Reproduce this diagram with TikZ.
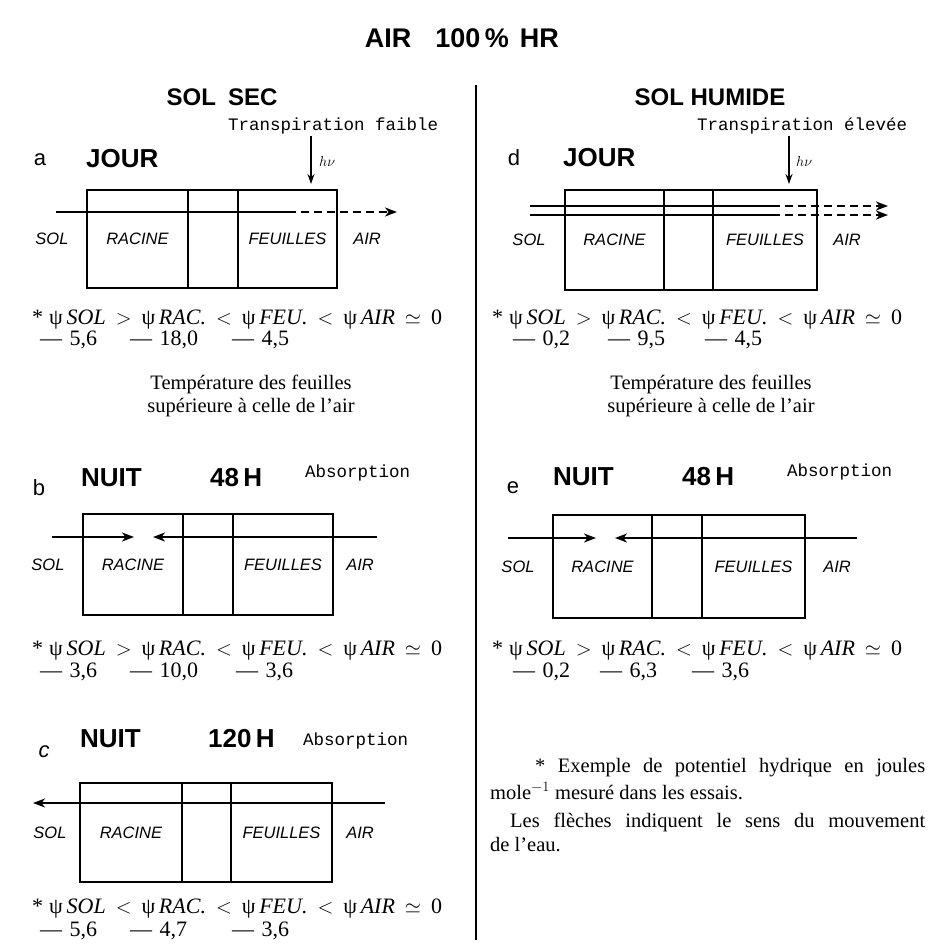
\documentclass[tikz,border=0pt]{standalone}
\usepackage{fontspec}
\setmainfont{Liberation Serif}
\setsansfont{Liberation Sans}
\setmonofont{Liberation Mono}
\usetikzlibrary{arrows.meta,positioning}

\begin{document}
\begin{tikzpicture}[
  x=1pt, y=-1pt,
  every node/.style={inner sep=0pt},
  cell/.style ={draw, line width=1.7pt, outer sep=0pt, minimum height=100pt,
                font=\sffamily\itshape\fontsize{16.5}{16.5}\selectfont},
  side/.style ={font=\sffamily\itshape\fontsize{16.5}{16.5}\selectfont},
  title/.style={font=\sffamily\bfseries\fontsize{24}{24}\selectfont},
  head/.style ={font=\sffamily\bfseries\fontsize{26}{26}\selectfont, anchor=west},
  tag/.style  ={font=\sffamily\fontsize{22}{22}\selectfont},
  remark/.style={font=\ttfamily\fontsize{17.5}{17.5}\selectfont, anchor=west},
  eq/.style   ={font=\fontsize{22}{22}\selectfont, anchor=west},
  txt/.style  ={font=\fontsize{20.5}{23}\selectfont},
  flow/.style ={line width=1.7pt, -{Stealth[length=12pt,width=9pt,inset=3.5pt]}},
  plain/.style={line width=1.7pt},
  dashline/.style={line width=1.7pt, dash pattern=on 8pt off 5pt},
  light/.style={line width=1.5pt, -{Stealth[length=10pt,width=7pt]}}
]
\useasboundingbox (0,0) rectangle (932,948);

\node[font=\sffamily\bfseries\fontsize{27}{27}\selectfont] (hr) at (462,38) {AIR\hspace{24pt}100\,\%\hspace{11pt}HR};
\draw[line width=1.2pt] (476,85) coordinate (top) -- (476,940) coordinate (bot);
\node[title] (sec) at (222,97) {SOL\hspace{12pt}SEC};
\node[title] (hum) at (710,97) {SOL HUMIDE};

% a : sol sec, jour
\node[remark] (trA) at (228,126) {Transpiration faible};
\node[tag] (la) at (40,160) {a};
\node[head] (jourA) at (86,159) {JOUR};
\coordinate (sunA) at (311,136);
\coordinate (hitA) at (311,184);
\draw[light] (sunA) -- (hitA);
\node[anchor=west, font=\fontsize{15}{15}\selectfont] (hvA) at (319,161) {$h\nu$};
\node[cell, minimum width=101pt, minimum height=98pt] (aRac) at (137.5,239) {RACINE};
\node[cell, minimum width=50pt, minimum height=98pt, right=0pt of aRac] (aTig) {};
\node[cell, minimum width=99pt, minimum height=98pt, right=0pt of aTig] (aFeu) {FEUILLES};
\node[side] (aSol) at (52,239) {SOL};
\node[side] (aAir) at (367,239) {AIR};
\coordinate (a0) at (56,212);
\coordinate (a1) at (288,212);
\coordinate (a2) at (397,212);
\draw[plain] (a0) -- (a1);
\draw[flow, dashline] (a1) -- (a2);
\node[eq] (eqA) at (32,320) {*\hspace{6pt}ψ\,\textit{SOL}\hspace{10pt}$>$\hspace{10pt}ψ\,\textit{RAC.}\hspace{10pt}$<$\hspace{10pt}ψ\,\textit{FEU.}\hspace{10pt}$<$\hspace{10pt}ψ\,\textit{AIR}\hspace{10pt}$\simeq$\hspace{10pt}0};
\node[eq] (vA1) at (40,340) {—\,\,5,6};
\node[eq] (vA2) at (130,340) {—\,\,18,0};
\node[eq] (vA3) at (232,340) {—\,\,4,5};
\node[txt, align=center] (tpA) at (251,396) {Température des feuilles\\supérieure à celle de l’air};

% d : sol humide, jour
\node[remark] (trD) at (697,126) {Transpiration élevée};
\node[tag] (ld) at (514,158) {d};
\node[head] (jourD) at (563,158) {JOUR};
\coordinate (sunD) at (789,136);
\coordinate (hitD) at (789,184);
\draw[light] (sunD) -- (hitD);
\node[anchor=west, font=\fontsize{15}{15}\selectfont] (hvD) at (796,161) {$h\nu$};
\node[cell, minimum width=99pt, minimum height=100pt] (dRac) at (614.5,240) {RACINE};
\node[cell, minimum width=49pt, minimum height=100pt, right=0pt of dRac] (dTig) {};
\node[cell, minimum width=104pt, minimum height=100pt, right=0pt of dTig] (dFeu) {FEUILLES};
\node[side] (dSol) at (529,240) {SOL};
\node[side] (dAir) at (847,240) {AIR};
\coordinate (d0) at (530,206);
\coordinate (d1) at (772,206);
\coordinate (d2) at (888,206);
\coordinate (d3) at (530,215);
\coordinate (d4) at (772,215);
\coordinate (d5) at (888,215);
\draw[plain] (d0) -- (d1);
\draw[flow, dashline] (d1) -- (d2);
\draw[plain] (d3) -- (d4);
\draw[flow, dashline] (d4) -- (d5);
\node[eq] (eqD) at (492,320) {*\hspace{6pt}ψ\,\textit{SOL}\hspace{10pt}$>$\hspace{10pt}ψ\,\textit{RAC.}\hspace{10pt}$<$\hspace{10pt}ψ\,\textit{FEU.}\hspace{10pt}$<$\hspace{10pt}ψ\,\textit{AIR}\hspace{10pt}$\simeq$\hspace{10pt}0};
\node[eq] (vD1) at (513,340) {—\,\,0,2};
\node[eq] (vD2) at (608,340) {—\,\,9,5};
\node[eq] (vD3) at (705,340) {—\,\,4,5};
\node[txt, align=center] (tpD) at (711,396) {Température des feuilles\\supérieure à celle de l’air};

% b : sol sec, nuit 48 h
\node[tag] (lb) at (39,488) {b};
\node[head] (nuitB) at (81,478) {NUIT};
\node[head] (hB) at (210,478) {48\,H};
\node[remark] (abB) at (305,473) {Absorption};
\node[cell, minimum width=100pt, minimum height=101pt] (bRac) at (133,564.5) {RACINE};
\node[cell, minimum width=50pt, minimum height=101pt, right=0pt of bRac] (bTig) {};
\node[cell, minimum width=100pt, minimum height=101pt, right=0pt of bTig] (bFeu) {FEUILLES};
\node[side] (bSol) at (48,564.5) {SOL};
\node[side] (bAir) at (360,564.5) {AIR};
\coordinate (b0) at (52,537);
\coordinate (b1) at (134,537);
\coordinate (b2) at (377,537);
\coordinate (b3) at (153,537);
\draw[flow] (b0) -- (b1);
\draw[flow] (b2) -- (b3);
\node[eq] (eqB) at (32,651) {*\hspace{6pt}ψ\,\textit{SOL}\hspace{10pt}$>$\hspace{10pt}ψ\,\textit{RAC.}\hspace{10pt}$<$\hspace{10pt}ψ\,\textit{FEU.}\hspace{10pt}$<$\hspace{10pt}ψ\,\textit{AIR}\hspace{10pt}$\simeq$\hspace{10pt}0};
\node[eq] (vB1) at (40,672) {—\,\,3,6};
\node[eq] (vB2) at (130,672) {—\,\,10,0};
\node[eq] (vB3) at (236,672) {—\,\,3,6};

% e : sol humide, nuit 48 h
\node[tag] (le) at (513,488) {e};
\node[head] (nuitE) at (553,477) {NUIT};
\node[head] (hE) at (682,477) {48\,H};
\node[remark] (abE) at (787,472) {Absorption};
\node[cell, minimum width=99pt, minimum height=103pt] (eRac) at (602.5,566.5) {RACINE};
\node[cell, minimum width=50pt, minimum height=103pt, right=0pt of eRac] (eTig) {};
\node[cell, minimum width=103pt, minimum height=103pt, right=0pt of eTig] (eFeu) {FEUILLES};
\node[side] (eSol) at (518,566.5) {SOL};
\node[side] (eAir) at (837,566.5) {AIR};
\coordinate (e0) at (508,538);
\coordinate (e1) at (596,538);
\coordinate (e2) at (857,538);
\coordinate (e3) at (615,538);
\draw[flow] (e0) -- (e1);
\draw[flow] (e2) -- (e3);
\node[eq] (eqE) at (492,651) {*\hspace{6pt}ψ\,\textit{SOL}\hspace{10pt}$>$\hspace{10pt}ψ\,\textit{RAC.}\hspace{10pt}$<$\hspace{10pt}ψ\,\textit{FEU.}\hspace{10pt}$<$\hspace{10pt}ψ\,\textit{AIR}\hspace{10pt}$\simeq$\hspace{10pt}0};
\node[eq] (vE1) at (513,672) {—\,\,0,2};
\node[eq] (vE2) at (600,672) {—\,\,6,3};
\node[eq] (vE3) at (692,672) {—\,\,3,6};

% c : sol sec, nuit 120 h
\node[tag, font=\sffamily\itshape\fontsize{22}{22}\selectfont] (lc) at (44,752) {c};
\node[head] (nuitC) at (80,739) {NUIT};
\node[head] (hC) at (208,739) {120\,H};
\node[remark] (abC) at (303,741) {Absorption};
\node[cell, minimum width=102pt, minimum height=99pt] (cRac) at (131,832.5) {RACINE};
\node[cell, minimum width=49pt, minimum height=99pt, right=0pt of cRac] (cTig) {};
\node[cell, minimum width=101pt, minimum height=99pt, right=0pt of cTig] (cFeu) {FEUILLES};
\node[side] (cSol) at (50,832.5) {SOL};
\node[side] (cAir) at (360,832.5) {AIR};
\coordinate (c0) at (385,803);
\coordinate (c1) at (33,803);
\draw[flow] (c0) -- (c1);
\node[eq] (eqC) at (32,909) {*\hspace{6pt}ψ\,\textit{SOL}\hspace{10pt}$<$\hspace{10pt}ψ\,\textit{RAC.}\hspace{10pt}$<$\hspace{10pt}ψ\,\textit{FEU.}\hspace{10pt}$<$\hspace{10pt}ψ\,\textit{AIR}\hspace{10pt}$\simeq$\hspace{10pt}0};
\node[eq] (vC1) at (40,931) {—\,\,5,6};
\node[eq] (vC2) at (130,931) {—\,\,4,7};
\node[eq] (vC3) at (232,931) {—\,\,3,6};

% notes
\node[txt, anchor=west] (n1) at (490,768) {\hspace{45pt}\makebox[390pt][s]{* Exemple de potentiel hydrique en joules}};
\node[txt, anchor=west] (n2) at (490,791) {mole$^{-1}$ mesuré dans les essais.};
\node[txt, anchor=west] (n3) at (490,822) {\hspace{20pt}\makebox[415pt][s]{Les flèches indiquent le sens du mouvement}};
\node[txt, anchor=west] (n4) at (490,845) {de l’eau.};
\end{tikzpicture}
\end{document}
